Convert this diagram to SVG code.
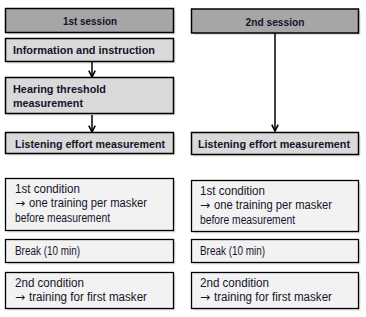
<svg xmlns="http://www.w3.org/2000/svg" width="366" height="317" viewBox="0 0 366 317">
<defs>
<style>
.shadow{fill:#000;opacity:0.12}
.hdr{fill:#a6a6a6;stroke:#000;stroke-width:1.5}
.box{fill:#d9d9d9;stroke:#000;stroke-width:1.5}
.cbox{fill:#f2f2f2;stroke:#000;stroke-width:1.3}
text{font-family:"Liberation Sans",Arial,sans-serif;font-size:12px;fill:#14142b}
.b{font-weight:bold;font-size:11.5px}
.c{text-anchor:middle}
.ar{font-family:"DejaVu Sans",sans-serif}
.conn{stroke:#000;stroke-width:1.5;fill:none}
</style>
<marker id="arr" viewBox="0 0 10 10" refX="9" refY="5" markerWidth="8" markerHeight="8" orient="auto" markerUnits="userSpaceOnUse">
<path d="M1,1 L9,5 L1,9" fill="none" stroke="#000" stroke-width="2"/>
</marker>
</defs>
<rect width="366" height="317" fill="#fff"/>
<g id="connectors">
<line class="conn" x1="92" y1="62" x2="92" y2="77" marker-end="url(#arr)"/>
<line class="conn" x1="92" y1="115" x2="92" y2="132" marker-end="url(#arr)"/>
<line class="conn" x1="275" y1="33" x2="275" y2="131" marker-end="url(#arr)"/>
</g>
<g id="session1">
<rect class="shadow" x="7.5" y="10.5" width="168" height="24"/>
<rect class="hdr" x="5.5" y="8.5" width="168" height="24"/>
<text class="b c" x="90" y="25" textLength="54" lengthAdjust="spacingAndGlyphs">1st session</text>
</g>
<g id="info">
<rect class="shadow" x="7.5" y="40.5" width="168" height="23"/>
<rect class="box" x="5.5" y="38.5" width="168" height="23"/>
<text class="b" x="13" y="54" textLength="142" lengthAdjust="spacingAndGlyphs">Information and instruction</text>
</g>
<g id="hearing">
<rect class="shadow" x="7.5" y="79.5" width="168" height="36"/>
<rect class="box" x="5.5" y="77.5" width="168" height="36"/>
<text class="b" x="13" y="93" textLength="93" lengthAdjust="spacingAndGlyphs">Hearing threshold</text>
<text class="b" x="13" y="107" textLength="70" lengthAdjust="spacingAndGlyphs">measurement</text>
</g>
<g id="listening1">
<rect class="shadow" x="7.5" y="134.5" width="168" height="21"/>
<rect class="box" x="5.5" y="132.5" width="168" height="21"/>
<text class="b" x="15" y="148" textLength="150" lengthAdjust="spacingAndGlyphs">Listening effort measurement</text>
</g>
<g id="cond1a">
<rect class="shadow" x="7.5" y="180.5" width="168" height="52"/>
<rect class="cbox" x="5.5" y="178.5" width="168" height="52"/>
<text x="15" y="193" textLength="65" lengthAdjust="spacingAndGlyphs">1st condition</text>
<text x="15" y="207"><tspan class="ar">→</tspan><tspan x="29" textLength="118" lengthAdjust="spacingAndGlyphs">one training per masker</tspan></text>
<text x="15" y="222" textLength="95" lengthAdjust="spacingAndGlyphs">before measurement</text>
</g>
<g id="break1">
<rect class="shadow" x="7.5" y="241.5" width="168" height="23"/>
<rect class="cbox" x="5.5" y="239.5" width="168" height="23"/>
<text x="15" y="255" textLength="65" lengthAdjust="spacingAndGlyphs">Break (10 min)</text>
</g>
<g id="cond2a">
<rect class="shadow" x="7.5" y="274.5" width="168" height="36"/>
<rect class="cbox" x="5.5" y="272.5" width="168" height="36"/>
<text x="15" y="287" textLength="69" lengthAdjust="spacingAndGlyphs">2nd condition</text>
<text x="15" y="301"><tspan class="ar">→</tspan><tspan x="29" textLength="118" lengthAdjust="spacingAndGlyphs">training for first masker</tspan></text>
</g>
<g id="session2">
<rect class="shadow" x="193.5" y="11" width="167" height="24"/>
<rect class="hdr" x="191.5" y="9" width="167" height="24"/>
<text class="b c" x="275" y="25.5" textLength="59" lengthAdjust="spacingAndGlyphs">2nd session</text>
</g>
<g id="listening2">
<rect class="shadow" x="193.5" y="134.5" width="167" height="22"/>
<rect class="box" x="191.5" y="132.5" width="167" height="22"/>
<text class="b" x="198" y="148" textLength="152" lengthAdjust="spacingAndGlyphs">Listening effort measurement</text>
</g>
<g id="cond1b">
<rect class="shadow" x="193.5" y="182.5" width="167" height="51"/>
<rect class="cbox" x="191.5" y="180.5" width="167" height="51"/>
<text x="200" y="195" textLength="65" lengthAdjust="spacingAndGlyphs">1st condition</text>
<text x="200" y="209"><tspan class="ar">→</tspan><tspan x="214" textLength="118" lengthAdjust="spacingAndGlyphs">one training per masker</tspan></text>
<text x="200" y="224" textLength="95" lengthAdjust="spacingAndGlyphs">before measurement</text>
</g>
<g id="break2">
<rect class="shadow" x="193.5" y="241.5" width="167" height="23"/>
<rect class="cbox" x="191.5" y="239.5" width="167" height="23"/>
<text x="200" y="255" textLength="65" lengthAdjust="spacingAndGlyphs">Break (10 min)</text>
</g>
<g id="cond2b">
<rect class="shadow" x="193.5" y="274.5" width="167" height="36"/>
<rect class="cbox" x="191.5" y="272.5" width="167" height="36"/>
<text x="200" y="287" textLength="69" lengthAdjust="spacingAndGlyphs">2nd condition</text>
<text x="200" y="301"><tspan class="ar">→</tspan><tspan x="214" textLength="118" lengthAdjust="spacingAndGlyphs">training for first masker</tspan></text>
</g>
</svg>
